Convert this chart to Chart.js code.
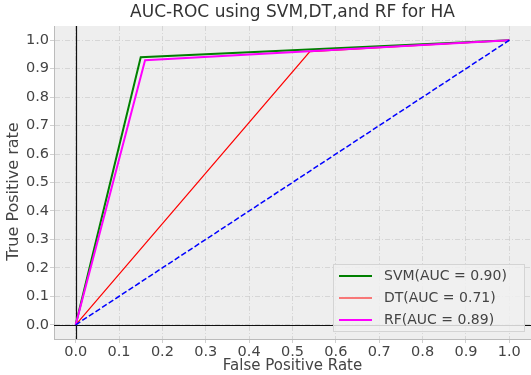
<!DOCTYPE html>
<html>
<head>
<meta charset="utf-8">
<script src="https://cdn.jsdelivr.net/npm/chart.js@4/dist/chart.umd.min.js"></script>
<style>
  html, body { margin: 0; padding: 0; background: #fff; }
  #wrap { width: 531px; height: 375px; }
</style>
</head>
<body>
<div id="wrap"><canvas id="roc"></canvas></div>
<script>
// ROC points
const svmFpr = [0, 0.15, 1]
const svmTpr = [0, 0.94, 1]
const dtFpr = [0, 0.54, 1]
const dtTpr = [0, 0.96, 1]
const rfFpr = [0, 0.16, 1]
const rfTpr = [0, 0.93, 1]
const chanceFpr = [0, 1]
const chanceTpr = [0, 1]

const labels = ['SVM(AUC = 0.90)', 'DT(AUC = 0.71)', 'RF(AUC = 0.89)']
const xTicks = [0, 0.1, 0.2, 0.3, 0.4, 0.5, 0.6, 0.7, 0.8, 0.9, 1.0]
const yTicks = [0, 0.1, 0.2, 0.3, 0.4, 0.5, 0.6, 0.7, 0.8, 0.9, 1.0]

const FONT = 'DejaVu Sans'
const TXT = '#444'

function pts (xs, ys) {
  return xs.map((x, i) => ({ x: x, y: ys[i] }))
}

// grey panel, black zero lines, title and y label
const panel = {
  id: 'panel',
  beforeDraw (chart) {
    const { ctx, chartArea: a } = chart
    ctx.save()
    ctx.fillStyle = '#eeeeee'
    ctx.fillRect(a.left, a.top, a.right - a.left, a.bottom - a.top)
    ctx.restore()
  },
  beforeDatasetsDraw (chart) {
    const { ctx, chartArea: a, scales } = chart
    const x0 = Math.round(scales.x.getPixelForValue(0)) + 0.5
    const y0 = Math.round(scales.y.getPixelForValue(0)) + 0.5
    ctx.save()
    ctx.strokeStyle = '#111'
    ctx.lineWidth = 1.2
    ctx.beginPath()
    ctx.moveTo(x0, a.top)
    ctx.lineTo(x0, a.bottom)
    ctx.moveTo(a.left, y0)
    ctx.lineTo(a.right, y0)
    ctx.stroke()
    ctx.restore()
  },
  afterDraw (chart) {
    const { ctx, chartArea: a } = chart
    const cx = (a.left + a.right) / 2
    ctx.save()
    ctx.textAlign = 'center'
    ctx.textBaseline = 'middle'
    ctx.fillStyle = '#333'
    ctx.font = '17px ' + FONT
    ctx.fillText('AUC-ROC using SVM,DT,and RF for HA', cx, 13)
    ctx.fillStyle = TXT
    ctx.font = '16px ' + FONT
    ctx.translate(14, (a.top + a.bottom) / 2 + 9)
    ctx.rotate(-Math.PI / 2)
    ctx.fillText('True Positive rate', 0, 0)
    ctx.restore()
  }
}

// legend inside the axes, lower right
const innerLegend = {
  id: 'innerLegend',
  afterDatasetsDraw (chart) {
    const { ctx, chartArea: a } = chart
    const items = chart.data.datasets.filter(d => d.label)
    const w = 191
    const h = 67
    const left = a.right - 7 - w
    const top = a.bottom - 8 - h
    ctx.save()
    ctx.fillStyle = 'rgba(240,240,240,0.85)'
    ctx.strokeStyle = '#d4d4d4'
    ctx.lineWidth = 1
    ctx.fillRect(left, top, w, h)
    ctx.strokeRect(left + 0.5, top + 0.5, w, h)
    ctx.font = '14px ' + FONT
    ctx.textBaseline = 'middle'
    items.forEach((d, i) => {
      const y = top + 12 + i * 22
      ctx.strokeStyle = d.borderColor
      ctx.lineWidth = d.borderWidth
      ctx.beginPath()
      ctx.moveTo(left + 6, y)
      ctx.lineTo(left + 39, y)
      ctx.stroke()
      ctx.fillStyle = TXT
      ctx.fillText(d.label, left + 51, y)
    })
    ctx.restore()
  }
}

const tickOpts = {
  color: TXT,
  font: { family: FONT, size: 14.5 },
  callback: v => v.toFixed(1)
}

new Chart(document.getElementById('roc'), {
  type: 'line',
  data: {
    datasets: [
      { label: labels[0], data: pts(svmFpr, svmTpr), borderColor: '#008000', borderWidth: 2, order: 4 },
      { label: labels[1], data: pts(dtFpr, dtTpr), borderColor: '#ff0000', borderWidth: 1.2, order: 3 },
      { label: labels[2], data: pts(rfFpr, rfTpr), borderColor: '#ff00ff', borderWidth: 2, order: 2 },
      { data: pts(chanceFpr, chanceTpr), borderColor: '#0000ff', borderWidth: 1.5, borderDash: [5.5, 2.4], order: 1 }
    ]
  },
  options: {
    responsive: true,
    maintainAspectRatio: false,
    animation: false,
    layout: { padding: { left: 0, right: 0, top: 26, bottom: 0 } },
    elements: { point: { radius: 0 }, line: { tension: 0, fill: false } },
    plugins: {
      legend: { display: false },
      tooltip: { enabled: false },
      title: { display: false }
    },
    scales: {
      x: {
        type: 'linear',
        min: -0.05,
        max: 1.05,
        afterBuildTicks: s => { s.ticks = xTicks.map(v => ({ value: v })) },
        afterFit: s => { s.height = 36 },
        ticks: Object.assign({ maxRotation: 0, autoSkip: false, padding: 1 }, tickOpts),
        grid: { color: '#cccccc', lineWidth: 0.7, tickLength: 4, tickColor: '#bbbbbb' },
        border: { display: true, color: '#bbbbbb', dash: [5, 2, 1, 2] },
        title: { display: true, text: 'False Positive Rate', color: TXT, font: { family: FONT, size: 15 }, padding: 0 }
      },
      y: {
        type: 'linear',
        min: -0.05,
        max: 1.05,
        afterBuildTicks: s => { s.ticks = yTicks.map(v => ({ value: v })) },
        afterFit: s => { s.width = 54 },
        ticks: Object.assign({ padding: 1 }, tickOpts),
        grid: { color: '#cccccc', lineWidth: 0.7, tickLength: 4, tickColor: '#bbbbbb' },
        border: { display: true, color: '#bbbbbb', dash: [5, 2, 1, 2] }
      }
    }
  },
  plugins: [panel, innerLegend]
})
</script>
</body>
</html>
